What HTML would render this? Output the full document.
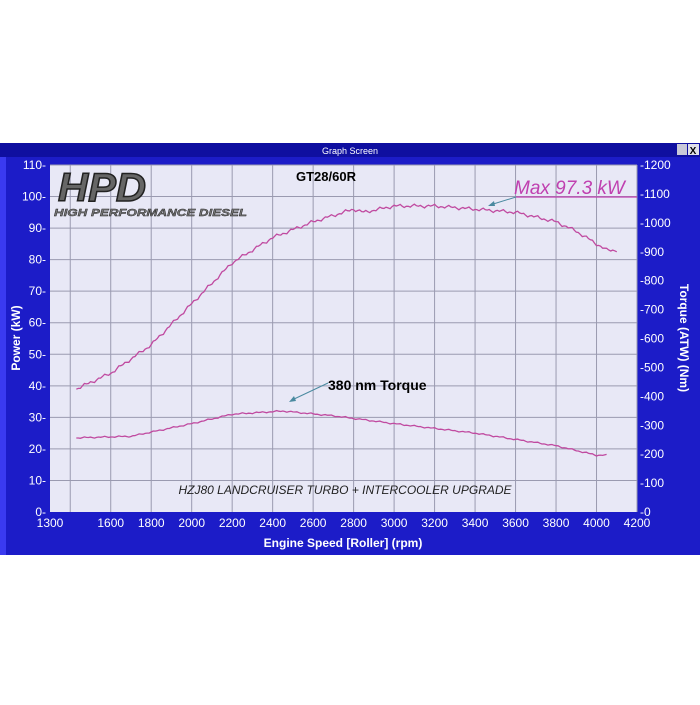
<!DOCTYPE html>
<html><head><meta charset="utf-8"><style>
body{margin:0;background:#fff;width:700px;height:700px;overflow:hidden}
svg text{font-family:"Liberation Sans",sans-serif}
</style></head><body>
<svg id="s" width="700" height="700" xmlns="http://www.w3.org/2000/svg">
<rect x="0" y="143" width="700" height="412" fill="#1c1cc8"/>
<rect x="0" y="143" width="700" height="14" fill="#0f0fa0"/>
<rect x="0" y="157" width="6" height="398" fill="#3a3af0"/>
<text x="350" y="154" font-size="9" fill="#fff" text-anchor="middle">Graph Screen</text>
<rect x="677" y="144" width="10" height="11" fill="#c8c8d8"/>
<rect x="688" y="144" width="11" height="11" fill="#e0e0e8"/>
<text x="693" y="154" font-size="10" font-weight="bold" fill="#000" text-anchor="middle">X</text>
<rect x="50" y="165" width="587" height="347" fill="#e8e8f6"/>
<g id="grid" stroke="#9a9ab0" stroke-width="1"></g>
<g id="ticks" fill="#fff" font-size="12"></g>
<text x="58" y="201" font-size="40" font-style="italic" font-weight="bold" fill="#666" stroke="#222" stroke-width="1.5" textLength="88" lengthAdjust="spacingAndGlyphs">HPD</text>
<text x="54" y="216" font-size="10" font-style="italic" font-weight="bold" fill="#777" stroke="#222" stroke-width="0.4" textLength="193" lengthAdjust="spacingAndGlyphs">HIGH PERFORMANCE DIESEL</text>
<text x="326" y="181" font-size="13" font-weight="bold" fill="#000" text-anchor="middle">GT28/60R</text>
<text x="514" y="194" font-size="19" font-style="italic" fill="#c040b0">Max 97.3 kW</text>
<line x1="516" y1="197" x2="637" y2="197" stroke="#c040b0" stroke-width="1.2"/>
<line x1="516" y1="197" x2="490" y2="205" stroke="#4a8aa0" stroke-width="1"/>
<polygon points="488,206 494,201 495,206" fill="#4a8aa0"/>
<text x="328" y="390" font-size="14" font-weight="bold" fill="#000">380 nm Torque</text>
<line x1="328" y1="383" x2="292" y2="400" stroke="#4a8aa0" stroke-width="1"/>
<polygon points="289,402 294,396 296,401" fill="#4a8aa0"/>
<text x="345" y="494" font-size="12" font-style="italic" fill="#222" text-anchor="middle">HZJ80 LANDCRUISER TURBO + INTERCOOLER UPGRADE</text>
<path id="p" fill="none" stroke="#c04aa0" stroke-width="1.3"/>
<path id="t" fill="none" stroke="#c04aa0" stroke-width="1.3"/>
<text x="343" y="547" font-size="12" font-weight="bold" fill="#fff" text-anchor="middle">Engine Speed [Roller] (rpm)</text>
<text transform="translate(20,338) rotate(-90)" font-size="12" font-weight="bold" fill="#fff" text-anchor="middle">Power (kW)</text>
<text transform="translate(680,338) rotate(90)" font-size="12" font-weight="bold" fill="#fff" text-anchor="middle">Torque (ATW) (Nm)</text>
</svg>
<script>
var X=r=>50+(r-1300)*587/2900, Y=k=>512-k*347/110;
var g=document.getElementById('grid'),tk=document.getElementById('ticks'),h='',t='';
for(var r=1400;r<=4200;r+=200)h+='<line x1="'+X(r)+'" y1="165" x2="'+X(r)+'" y2="512"/>';
for(var k=10;k<=110;k+=10)h+='<line x1="50" y1="'+Y(k)+'" x2="637" y2="'+Y(k)+'"/>';
g.innerHTML=h;
var xl=[1300,1600,1800,2000,2200,2400,2600,2800,3000,3200,3400,3600,3800,4000,4200];
xl.forEach(r=>t+='<text x="'+X(r)+'" y="527" text-anchor="middle">'+r+'</text>');
for(var k=0;k<=110;k+=10)t+='<text x="46" y="'+(Y(k)+4)+'" text-anchor="end">'+k+'-</text>';
for(var n=0;n<=1200;n+=100)t+='<text x="640" y="'+(512-n*347/1200+4)+'">-'+n+'</text>';
tk.innerHTML=t;
function interp(pts,r){for(var i=0;i<pts.length-1;i++)if(r<=pts[i+1][0]){var a=pts[i],b=pts[i+1];return a[1]+(b[1]-a[1])*(r-a[0])/(b[0]-a[0]);}return pts[pts.length-1][1];}
var P=[[1430,39],[1600,44],[1800,53],[2000,66],[2200,79],[2400,87],[2600,92],[2800,96],[2850,95],[3000,97],[3200,97],[3400,96],[3600,95],[3800,92],[3900,89],[4000,85],[4050,83],[4100,83]];
var T=[[1430,23.5],[1700,24],[2000,28],[2200,31],[2450,32],[2700,30.5],[3000,28],[3400,25],[3800,21],[4000,18],[4050,18]];
function path(pts,j){var d='',e=pts[pts.length-1][0];for(var r=pts[0][0];r<=e;r+=10){var v=interp(pts,r)+j*Math.sin(r*1.7)*Math.cos(r*0.37);d+=(d?'L':'M')+X(r).toFixed(1)+','+Y(v).toFixed(1);}return d;}
document.getElementById('p').setAttribute('d',path(P,0.6));
document.getElementById('t').setAttribute('d',path(T,0.25));
</script>
</body></html>
